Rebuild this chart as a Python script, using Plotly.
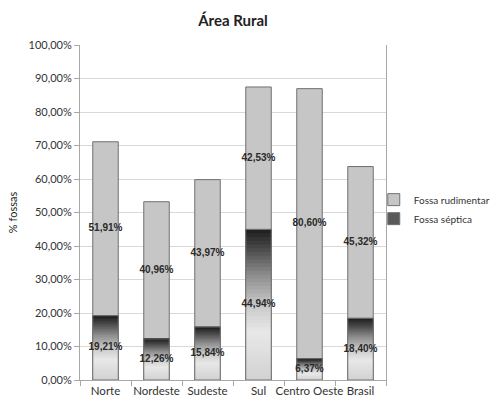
import plotly.graph_objects as go

# Share of households by type of cesspit, rural area
regioes = ["Norte", "Nordeste", "Sudeste", "Sul", "Centro Oeste", "Brasil"]
fossa_septica = [19.21, 12.26, 15.84, 44.94, 6.37, 18.40]
fossa_rudimentar = [51.91, 40.96, 43.97, 42.53, 80.60, 45.32]
y_ticks = [0, 10, 20, 30, 40, 50, 60, 70, 80, 90, 100]

FONT = "Lato"
LABEL_FONT = "Liberation Sans"
OUTLINE = "#707070"
RUDIMENTAR = "#c6c6c6"
BAR_WIDTH = 0.5

# vertical shading stops for the septic bars (top of bar -> bottom)
shade_stops = [(0.0, 30), (0.12, 70), (0.3, 140), (0.5, 200), (0.68, 232), (1.0, 210)]


def shade_at(t):
    for (t0, g0), (t1, g1) in zip(shade_stops[:-1], shade_stops[1:]):
        if t0 <= t <= t1:
            g = int(round(g0 + (g1 - g0) * (t - t0) / (t1 - t0)))
            return f"rgb({g},{g},{g})"
    return "rgb(210,210,210)"


def pct(v):
    return f"{v:.2f}%".replace(".", ",")


fig = go.Figure()

# rudimentary cesspit, stacked above the septic tank share
fig.add_trace(go.Bar(
    name="Fossa rudimentar", x=regioes, y=fossa_rudimentar, base=fossa_septica,
    width=BAR_WIDTH, marker=dict(color=RUDIMENTAR, line=dict(color=OUTLINE, width=1)),
    legendrank=1,
))

# septic tank: solid base trace (legend entry) under a shaded overlay
fig.add_trace(go.Bar(
    name="Fossa séptica", x=regioes, y=fossa_septica, base=[0] * len(regioes),
    width=BAR_WIDTH, marker=dict(color="#5a5a5a", line=dict(color=OUTLINE, width=1)),
    legendrank=2,
))

# shaded slices, drawn bottom-up; each slice overlaps the next to avoid seams
N = 40
for i in range(N):
    color = shade_at(1 - (i + 0.5) / N)
    fig.add_trace(go.Bar(
        x=regioes,
        y=[v * min(2.0, N - i) / N for v in fossa_septica],
        base=[v * i / N for v in fossa_septica],
        width=BAR_WIDTH, marker=dict(color=color, line=dict(width=0)),
        showlegend=False, hoverinfo="skip",
    ))

# outline over the shaded septic bars
fig.add_trace(go.Bar(
    x=regioes, y=fossa_septica, base=[0] * len(regioes), width=BAR_WIDTH,
    marker=dict(color="rgba(0,0,0,0)", line=dict(color=OUTLINE, width=1)),
    showlegend=False, hoverinfo="skip",
))

# value labels centred in each segment
label_font = dict(family=LABEL_FONT, size=10, color="#2a2a2a", weight="bold")
fig.add_trace(go.Scatter(
    x=regioes, y=[v / 2 for v in fossa_septica], mode="text",
    text=[pct(v) for v in fossa_septica], textfont=label_font,
    showlegend=False, hoverinfo="skip",
))
fig.add_trace(go.Scatter(
    x=regioes, y=[s + r / 2 for s, r in zip(fossa_septica, fossa_rudimentar)],
    mode="text", text=[pct(v) for v in fossa_rudimentar], textfont=label_font,
    showlegend=False, hoverinfo="skip",
))

fig.update_layout(
    width=503, height=402,
    margin=dict(l=80, r=117, t=45, b=22, autoexpand=False),
    paper_bgcolor="white", plot_bgcolor="white",
    barmode="overlay",
    separators=",.",
    title=dict(text="<b>Área Rural</b>", x=0.5, xref="paper", y=0.948, yanchor="middle",
               font=dict(family=FONT, size=15, color="#222222")),
    font=dict(family=FONT, size=11, color="#333333"),
    legend=dict(x=0.96, xanchor="left", y=0.51, yanchor="middle",
                font=dict(family=FONT, size=10, color="#333333"),
                bgcolor="rgba(0,0,0,0)", tracegroupgap=0),
    showlegend=True,
)

fig.update_xaxes(
    type="category", showgrid=False, showline=True, linecolor="#a8a8a8", linewidth=1,
    ticks="outside", tickson="boundaries", ticklen=5, tickcolor="#a8a8a8", tickangle=0,
    tickfont=dict(family=FONT, size=11.5, color="#333333"),
)
fig.update_yaxes(
    range=[0, 100], tickmode="array", tickvals=y_ticks,
    ticktext=[pct(v) for v in y_ticks],
    showgrid=True, gridcolor="#d9d9d9", gridwidth=1,
    showline=True, linecolor="#a8a8a8", linewidth=1, mirror=True,
    ticks="outside", ticklen=5, tickcolor="#a8a8a8",
    tickfont=dict(family=FONT, size=11, color="#333333"),
    title=dict(text="% fossas", font=dict(family=FONT, size=11, color="#222222"), standoff=8),
    zeroline=False,
)

fig.write_html("out.html")
